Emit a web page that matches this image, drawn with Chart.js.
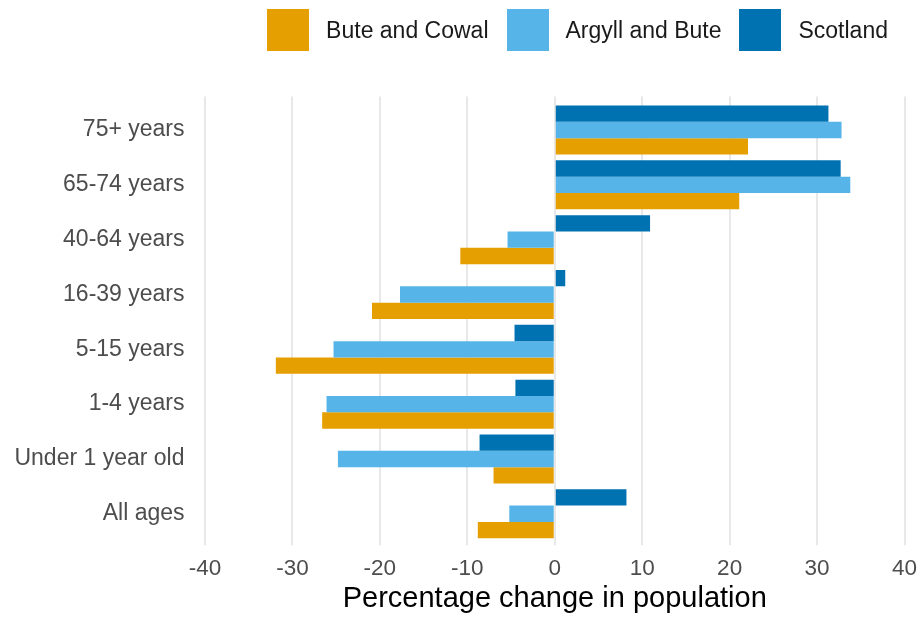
<!DOCTYPE html>
<html>
<head>
<meta charset="utf-8">
<script src="https://cdn.jsdelivr.net/npm/chart.js@4"></script>
<style>
  html, body { margin: 0; padding: 0; background: #ffffff; }
  #wrap { position: relative; width: 921px; height: 618px; }
  #legend { position: absolute; top: 9px; right: 33px; display: flex; align-items: center;
            font-family: "Liberation Sans", Arial, sans-serif; font-size: 23px; color: #1a1a1a; }
  .item { display: flex; align-items: center; margin-left: 18px; }
  .item:first-child { margin-left: 0; }
  .sw { width: 42px; height: 42px; }
  .lbl { margin-left: 17px; line-height: 42px; white-space: nowrap; }
</style>
</head>
<body>
<div id="wrap">
  <canvas id="c" width="921" height="618"></canvas>
  <div id="legend"></div>
</div>
<script>
const categories = ['75+ years', '65-74 years', '40-64 years', '16-39 years', '5-15 years', '1-4 years', 'Under 1 year old', 'All ages'];
const scotland   = [31.3, 32.7, 10.9, 1.2, -4.6, -4.5, -8.6, 8.2];
const argyllBute = [32.8, 33.8, -5.4, -17.7, -25.3, -26.1, -24.8, -5.2];
const buteCowal  = [22.1, 21.1, -10.8, -20.9, -31.9, -26.6, -7.0, -8.8];
const seriesNames = ['Scotland', 'Argyll and Bute', 'Bute and Cowal'];
const seriesColors = ['#0072B2', '#56B4E9', '#E69F00'];
const xMin = -40, xMax = 40, xStep = 10;
const xTitle = 'Percentage change in population';

const FONT = '"Liberation Sans", Arial, sans-serif';
const GRID = '#e8e8e8';

const chart = new Chart(document.getElementById('c'), {
  type: 'bar',
  data: {
    labels: categories,
    datasets: [
      { label: seriesNames[0], data: scotland,   backgroundColor: seriesColors[0] },
      { label: seriesNames[1], data: argyllBute, backgroundColor: seriesColors[1] },
      { label: seriesNames[2], data: buteCowal,  backgroundColor: seriesColors[2] }
    ]
  },
  options: {
    indexAxis: 'y',
    responsive: false,
    animation: false,
    devicePixelRatio: 1,
    layout: { padding: { top: 96.6, right: 16.5, left: 0, bottom: 0 } },
    datasets: { bar: { categoryPercentage: 0.894, barPercentage: 1.0, borderWidth: 0 } },
    plugins: { legend: { display: false }, tooltip: { enabled: false } },
    scales: {
      x: {
        type: 'linear',
        position: 'bottom',
        min: xMin, max: xMax,
        border: { display: false },
        grid: { color: GRID, lineWidth: 2, drawTicks: true, tickLength: 4, tickColor: GRID },
        ticks: { stepSize: xStep, padding: 10, color: '#4d4d4d', font: { family: FONT, size: 22.5, lineHeight: 1.2 } },
        title: { display: true, text: xTitle, color: '#000000', padding: { top: 0, bottom: 5 },
                 font: { family: FONT, size: 29, lineHeight: 1 } },
        afterFit: s => { s.height = 618 - 541.2; s.paddingLeft = 0; s.paddingRight = 0; }
      },
      xTop: {
        type: 'linear',
        position: 'top',
        min: xMin, max: xMax,
        border: { display: false },
        grid: { drawOnChartArea: false, color: GRID, lineWidth: 2, drawTicks: true, tickLength: 6, tickColor: GRID },
        ticks: { stepSize: xStep, display: false },
        afterFit: s => { s.height = 6; s.paddingLeft = 0; s.paddingRight = 0; }
      },
      y: {
        type: 'category',
        border: { display: false },
        grid: { display: false, drawTicks: false },
        ticks: { padding: 20.5, color: '#4d4d4d', font: { family: FONT, size: 23, lineHeight: 1.2 } },
        afterFit: s => { s.width = 205; }
      }
    }
  }
});

// HTML legend generated from the chart's datasets (reverse order, as in the reference)
const legendEl = document.getElementById('legend');
chart.data.datasets.slice().reverse().forEach(ds => {
  const item = document.createElement('div');
  item.className = 'item';
  const sw = document.createElement('div');
  sw.className = 'sw';
  sw.style.background = ds.backgroundColor;
  const lbl = document.createElement('span');
  lbl.className = 'lbl';
  lbl.textContent = ds.label;
  item.appendChild(sw);
  item.appendChild(lbl);
  legendEl.appendChild(item);
});
</script>
</body>
</html>
